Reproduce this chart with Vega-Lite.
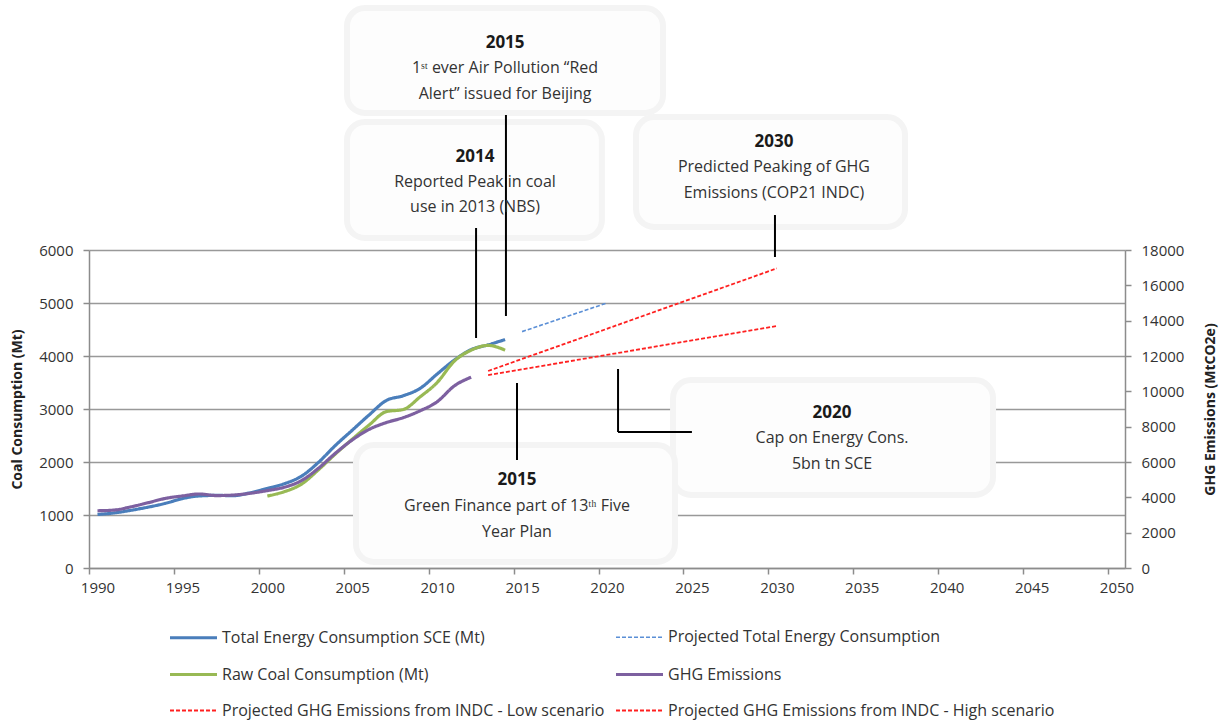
{
  "$schema": "https://vega.github.io/schema/vega-lite/v6.json",
  "width": 1036,
  "height": 318,
  "autosize": {"type": "none"},
  "padding": {"left": 89, "top": 250, "right": 100, "bottom": 152},
  "background": "white",
  "config": {
    "view": {"stroke": null},
    "font": "Open Sans",
    "axis": {
      "labelFont": "Open Sans",
      "labelFontSize": 15,
      "labelColor": "#333333",
      "titleFont": "Open Sans",
      "titleFontSize": 14,
      "titleFontWeight": "bold",
      "titleColor": "#222222",
      "domainColor": "#8c8c8c",
      "domainWidth": 1.5,
      "tickColor": "#8c8c8c",
      "tickWidth": 1.5,
      "tickSize": 6
    },
    "legend": {
      "orient": "none",
      "direction": "horizontal",
      "legendX": 79,
      "legendY": 362,
      "columns": 2,
      "symbolType": "stroke",
      "symbolSize": 2209,
      "rowPadding": 3,
      "columnPadding": 4,
      "labelFont": "Open Sans",
      "labelFontSize": 16,
      "labelColor": "#333333",
      "labelLimit": 600,
      "labelOffset": 3,
      "padding": 0
    }
  },
  "datasets": {
    "left": [
      {"series": "Total Energy Consumption SCE (Mt)", "year": 1990, "value": 1010},
      {"series": "Total Energy Consumption SCE (Mt)", "year": 1991, "value": 1040},
      {"series": "Total Energy Consumption SCE (Mt)", "year": 1992, "value": 1090},
      {"series": "Total Energy Consumption SCE (Mt)", "year": 1993, "value": 1150},
      {"series": "Total Energy Consumption SCE (Mt)", "year": 1994, "value": 1220},
      {"series": "Total Energy Consumption SCE (Mt)", "year": 1995, "value": 1310},
      {"series": "Total Energy Consumption SCE (Mt)", "year": 1996, "value": 1360},
      {"series": "Total Energy Consumption SCE (Mt)", "year": 1997, "value": 1370},
      {"series": "Total Energy Consumption SCE (Mt)", "year": 1998, "value": 1365},
      {"series": "Total Energy Consumption SCE (Mt)", "year": 1999, "value": 1420},
      {"series": "Total Energy Consumption SCE (Mt)", "year": 2000, "value": 1500},
      {"series": "Total Energy Consumption SCE (Mt)", "year": 2001, "value": 1590},
      {"series": "Total Energy Consumption SCE (Mt)", "year": 2002, "value": 1730},
      {"series": "Total Energy Consumption SCE (Mt)", "year": 2003, "value": 1990},
      {"series": "Total Energy Consumption SCE (Mt)", "year": 2004, "value": 2310},
      {"series": "Total Energy Consumption SCE (Mt)", "year": 2005, "value": 2600},
      {"series": "Total Energy Consumption SCE (Mt)", "year": 2006, "value": 2890},
      {"series": "Total Energy Consumption SCE (Mt)", "year": 2007, "value": 3160},
      {"series": "Total Energy Consumption SCE (Mt)", "year": 2008, "value": 3250},
      {"series": "Total Energy Consumption SCE (Mt)", "year": 2009, "value": 3390},
      {"series": "Total Energy Consumption SCE (Mt)", "year": 2010, "value": 3660},
      {"series": "Total Energy Consumption SCE (Mt)", "year": 2011, "value": 3920},
      {"series": "Total Energy Consumption SCE (Mt)", "year": 2012, "value": 4120},
      {"series": "Total Energy Consumption SCE (Mt)", "year": 2013, "value": 4210},
      {"series": "Total Energy Consumption SCE (Mt)", "year": 2014, "value": 4310},
      {"series": "Projected Total Energy Consumption", "year": 2015, "value": 4460},
      {"series": "Projected Total Energy Consumption", "year": 2020, "value": 5000},
      {"series": "Raw Coal Consumption (Mt)", "year": 2000, "value": 1358},
      {"series": "Raw Coal Consumption (Mt)", "year": 2001, "value": 1440},
      {"series": "Raw Coal Consumption (Mt)", "year": 2002, "value": 1580},
      {"series": "Raw Coal Consumption (Mt)", "year": 2003, "value": 1850},
      {"series": "Raw Coal Consumption (Mt)", "year": 2004, "value": 2150},
      {"series": "Raw Coal Consumption (Mt)", "year": 2005, "value": 2430},
      {"series": "Raw Coal Consumption (Mt)", "year": 2006, "value": 2700},
      {"series": "Raw Coal Consumption (Mt)", "year": 2007, "value": 2950},
      {"series": "Raw Coal Consumption (Mt)", "year": 2008, "value": 2990},
      {"series": "Raw Coal Consumption (Mt)", "year": 2009, "value": 3230},
      {"series": "Raw Coal Consumption (Mt)", "year": 2010, "value": 3500},
      {"series": "Raw Coal Consumption (Mt)", "year": 2011, "value": 3900},
      {"series": "Raw Coal Consumption (Mt)", "year": 2012, "value": 4110},
      {"series": "Raw Coal Consumption (Mt)", "year": 2013, "value": 4200},
      {"series": "Raw Coal Consumption (Mt)", "year": 2014, "value": 4110}
    ],
    "right": [
      {"series": "GHG Emissions", "year": 1990, "value": 3240},
      {"series": "GHG Emissions", "year": 1991, "value": 3280},
      {"series": "GHG Emissions", "year": 1992, "value": 3470},
      {"series": "GHG Emissions", "year": 1993, "value": 3700},
      {"series": "GHG Emissions", "year": 1994, "value": 3940},
      {"series": "GHG Emissions", "year": 1995, "value": 4080},
      {"series": "GHG Emissions", "year": 1996, "value": 4190},
      {"series": "GHG Emissions", "year": 1997, "value": 4100},
      {"series": "GHG Emissions", "year": 1998, "value": 4130},
      {"series": "GHG Emissions", "year": 1999, "value": 4230},
      {"series": "GHG Emissions", "year": 2000, "value": 4380},
      {"series": "GHG Emissions", "year": 2001, "value": 4570},
      {"series": "GHG Emissions", "year": 2002, "value": 4940},
      {"series": "GHG Emissions", "year": 2003, "value": 5640},
      {"series": "GHG Emissions", "year": 2004, "value": 6490},
      {"series": "GHG Emissions", "year": 2005, "value": 7250},
      {"series": "GHG Emissions", "year": 2006, "value": 7850},
      {"series": "GHG Emissions", "year": 2007, "value": 8230},
      {"series": "GHG Emissions", "year": 2008, "value": 8510},
      {"series": "GHG Emissions", "year": 2009, "value": 8900},
      {"series": "GHG Emissions", "year": 2010, "value": 9410},
      {"series": "GHG Emissions", "year": 2011, "value": 10300},
      {"series": "GHG Emissions", "year": 2012, "value": 10800},
      {"series": "Projected GHG Emissions from INDC - Low scenario", "year": 2013, "value": 10920},
      {"series": "Projected GHG Emissions from INDC - Low scenario", "year": 2030, "value": 13700},
      {"series": "Projected GHG Emissions from INDC - High scenario", "year": 2013, "value": 11150},
      {"series": "Projected GHG Emissions from INDC - High scenario", "year": 2030, "value": 16960}
    ],
    "boxes": [
      {"name": "A", "year": 2004.69, "year2": 2023.3, "value": 10566, "value2": 8585},
      {"name": "B", "year": 2004.69, "year2": 2019.7, "value": 8415, "value2": 6226},
      {"name": "C", "year": 2021.71, "year2": 2037.55, "value": 8509, "value2": 6434},
      {"name": "D", "year": 2023.89, "year2": 2042.73, "value": 3547, "value2": 1377},
      {"name": "E", "year": 2005.22, "year2": 2024.0, "value": 2321, "value2": 113}
    ],
    "connectors": [
      {"year": 2014.05, "year2": 2014.05, "value": 8547, "value2": 4755},
      {"year": 2012.29, "year2": 2012.29, "value": 6415, "value2": 4340},
      {"year": 2029.89, "year2": 2029.89, "value": 6660, "value2": 5868},
      {"year": 2014.7, "year2": 2014.7, "value": 3491, "value2": 2038},
      {"year": 2020.65, "year2": 2020.65, "value": 3755, "value2": 2566},
      {"year": 2020.65, "year2": 2025.0, "value": 2566, "value2": 2566}
    ],
    "heads": [
      {"year": 2014.0, "value": 9906, "text": "2015"},
      {"year": 2012.23, "value": 7755, "text": "2014"},
      {"year": 2029.83, "value": 8038, "text": "2030"},
      {"year": 2033.25, "value": 2925, "text": "2020"},
      {"year": 2014.7, "value": 1660, "text": "2015"}
    ],
    "notes": [
      {"year": 2014.0, "value": 9434, "text": "1ˢᵗ ever Air Pollution “Red"},
      {"year": 2014.0, "value": 8943, "text": "Alert” issued for Beijing"},
      {"year": 2012.23, "value": 7283, "text": "Reported Peak in coal"},
      {"year": 2012.23, "value": 6811, "text": "use in 2013 (NBS)"},
      {"year": 2029.83, "value": 7566, "text": "Predicted Peaking of GHG"},
      {"year": 2029.83, "value": 7075, "text": "Emissions (COP21 INDC)"},
      {"year": 2033.25, "value": 2453, "text": "Cap on Energy Cons."},
      {"year": 2033.25, "value": 1962, "text": "5bn tn SCE"},
      {"year": 2014.7, "value": 1170, "text": "Green Finance part of 13ᵗʰ Five"},
      {"year": 2014.7, "value": 679, "text": "Year Plan"}
    ]
  },
  "layer": [
    {
      "encoding": {
        "x": {
          "field": "year", "type": "quantitative",
          "scale": {"domain": [1989.5, 2050.5], "nice": false, "zero": false},
          "axis": {"title": null, "values": [1990, 1995, 2000, 2005, 2010, 2015, 2020, 2025, 2030, 2035, 2040, 2045, 2050], "format": "d", "tickOffset": -8.5, "labelOffset": 8.5, "labelPadding": 6, "grid": false}
        },
        "y": {
          "field": "value", "type": "quantitative",
          "scale": {"domain": [0, 6000], "nice": false},
          "axis": {"title": "Coal Consumption  (Mt)", "values": [0, 1000, 2000, 3000, 4000, 5000, 6000], "format": "d", "grid": true, "gridColor": "#999999", "gridWidth": 1.4, "labelPadding": 10, "titlePadding": 14}
        }
      },
      "layer": [
        {
          "data": {"name": "boxes"},
          "mark": {"type": "rect", "fill": "#fdfdfd", "stroke": "#f4f4f4", "strokeWidth": 6, "cornerRadius": 18},
          "encoding": {
            "x2": {"field": "year2"},
            "y2": {"field": "value2"}
          }
        },
        {
          "data": {"name": "connectors"},
          "mark": {"type": "rule", "color": "#000000", "strokeWidth": 2},
          "encoding": {
            "x2": {"field": "year2"},
            "y2": {"field": "value2"}
          }
        },
        {
          "data": {"name": "heads"},
          "mark": {"type": "text", "font": "Open Sans", "fontSize": 17, "fontWeight": "bold", "color": "#1a1a1a", "align": "center", "baseline": "middle"},
          "encoding": {
            "text": {"field": "text"}
          }
        },
        {
          "data": {"name": "notes"},
          "mark": {"type": "text", "font": "Open Sans", "fontSize": 16, "color": "#333333", "align": "center", "baseline": "middle"},
          "encoding": {
            "text": {"field": "text"}
          }
        },
        {
          "data": {"name": "left"},
          "mark": {"type": "line", "interpolate": "monotone"},
          "encoding": {
            "color": {
              "field": "series", "type": "nominal",
              "scale": {
                "domain": ["Total Energy Consumption SCE (Mt)", "Projected Total Energy Consumption", "Raw Coal Consumption (Mt)", "GHG Emissions", "Projected GHG Emissions from INDC - Low scenario", "Projected GHG Emissions from INDC - High scenario"],
                "range": ["#4a7ebb", "#5b8fd6", "#98b954", "#7d60a0", "#ff2020", "#ff2020"]
              },
              "legend": {"title": null}
            },
            "strokeDash": {
              "field": "series", "type": "nominal",
              "scale": {
                "domain": ["Total Energy Consumption SCE (Mt)", "Projected Total Energy Consumption", "Raw Coal Consumption (Mt)", "GHG Emissions", "Projected GHG Emissions from INDC - Low scenario", "Projected GHG Emissions from INDC - High scenario"],
                "range": [[1, 0], [4, 2], [1, 0], [1, 0], [4, 2], [4, 2]]
              },
              "legend": {"title": null}
            },
            "strokeWidth": {
              "field": "series", "type": "ordinal",
              "scale": {
                "type": "ordinal",
                "domain": ["Total Energy Consumption SCE (Mt)", "Projected Total Energy Consumption", "Raw Coal Consumption (Mt)", "GHG Emissions", "Projected GHG Emissions from INDC - Low scenario", "Projected GHG Emissions from INDC - High scenario"],
                "range": [3.2, 1.6, 3.2, 3.2, 1.8, 1.8]
              },
              "legend": {"title": null}
            }
          }
        }
      ]
    },
    {
      "data": {"name": "right"},
      "mark": {"type": "line", "interpolate": "monotone"},
      "encoding": {
        "x": {
          "field": "year", "type": "quantitative",
          "scale": {"domain": [1989.5, 2050.5], "nice": false, "zero": false},
          "axis": {"title": null, "values": [1990, 1995, 2000, 2005, 2010, 2015, 2020, 2025, 2030, 2035, 2040, 2045, 2050], "format": "d", "tickOffset": -8.5, "labelOffset": 8.5, "labelPadding": 6, "grid": false}
        },
        "y": {
          "field": "value", "type": "quantitative",
          "scale": {"domain": [0, 18000], "nice": false},
          "axis": {"orient": "right", "title": "GHG Emissions  (MtCO2e)", "values": [0, 2000, 4000, 6000, 8000, 10000, 12000, 14000, 16000, 18000], "format": "d", "grid": false, "labelPadding": 10, "titleAngle": 270, "titlePadding": 34}
        },
        "color": {
          "field": "series", "type": "nominal",
          "scale": {
            "domain": ["Total Energy Consumption SCE (Mt)", "Projected Total Energy Consumption", "Raw Coal Consumption (Mt)", "GHG Emissions", "Projected GHG Emissions from INDC - Low scenario", "Projected GHG Emissions from INDC - High scenario"],
            "range": ["#4a7ebb", "#5b8fd6", "#98b954", "#7d60a0", "#ff2020", "#ff2020"]
          },
          "legend": {"title": null}
        },
        "strokeDash": {
          "field": "series", "type": "nominal",
          "scale": {
            "domain": ["Total Energy Consumption SCE (Mt)", "Projected Total Energy Consumption", "Raw Coal Consumption (Mt)", "GHG Emissions", "Projected GHG Emissions from INDC - Low scenario", "Projected GHG Emissions from INDC - High scenario"],
            "range": [[1, 0], [4, 2], [1, 0], [1, 0], [4, 2], [4, 2]]
          },
          "legend": {"title": null}
        },
        "strokeWidth": {
          "field": "series", "type": "ordinal",
          "scale": {
            "type": "ordinal",
            "domain": ["Total Energy Consumption SCE (Mt)", "Projected Total Energy Consumption", "Raw Coal Consumption (Mt)", "GHG Emissions", "Projected GHG Emissions from INDC - Low scenario", "Projected GHG Emissions from INDC - High scenario"],
            "range": [3.2, 1.6, 3.2, 3.2, 1.8, 1.8]
          },
          "legend": {"title": null}
        }
      }
    }
  ],
  "resolve": {"scale": {"y": "independent"}, "axis": {"y": "independent"}}
}
